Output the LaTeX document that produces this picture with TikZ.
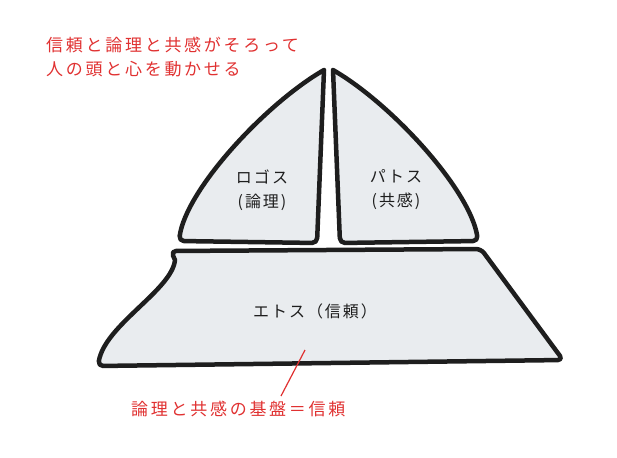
\documentclass[tikz,border=0pt]{standalone}
\usepackage{fontspec}
\newfontfamily\jpfont{Noto Sans CJK JP}
\definecolor{exred}{HTML}{E03131}
\definecolor{exfill}{HTML}{E9ECEF}
\definecolor{exstroke}{HTML}{1E1E1E}
\tikzset{
  part/.style={draw=exstroke, fill=exfill, line width=4.5pt, line join=round, line cap=round},
  redtext/.style={text=exred, font=\jpfont\fontsize{17}{24.5}\selectfont\addfontfeature{LetterSpace=16}, align=left, inner sep=0pt},
  blacktext/.style={text=exstroke, font=\jpfont\fontsize{16}{24}\selectfont\addfontfeature{LetterSpace=12}, align=center, inner sep=0pt},
  redline/.style={draw=exred, line width=1.2pt}
}
\begin{document}
\begin{tikzpicture}[x=1pt,y=-1pt]
\useasboundingbox (0,0) rectangle (617,457);
% left triangle (logos)
\draw[part] (324,70) [rounded corners=5pt] -- (317,243) -- (179,241) [sharp corners]
  .. controls (186,190) and (265,104) .. (324,70);
% right triangle (pathos)
\draw[part] (333,70) [rounded corners=5pt] -- (340,243) -- (478,241) [sharp corners]
  .. controls (470,190) and (392,104) .. (333,70);
% trapezoid (ethos)
\draw[part] (175,260) [rounded corners=5pt] -- (171,251) -- (481,249) -- (563,360) -- (98,366) [sharp corners]
  .. controls (105,325) and (172,290) .. (175,260);
% labels
\node[blacktext] (logos) at (262,190) {ロゴス\\(論理)};
\node[blacktext] (pathos) at (396,190) {パトス\\(共感)};
\node[blacktext] (ethos) at (315,311) {エトス（信頼）};
\node[redtext, anchor=west] (top) at (46,57) {信頼と論理と共感がそろって\\人の頭と心を動かせる};
\node[redtext, anchor=west] (base) at (131,409) {論理と共感の基盤＝信頼};
\coordinate (tip) at (305,350);
\coordinate (foot) at (281,396);
\draw[redline] (tip) -- (foot);
\end{tikzpicture}
\end{document}
